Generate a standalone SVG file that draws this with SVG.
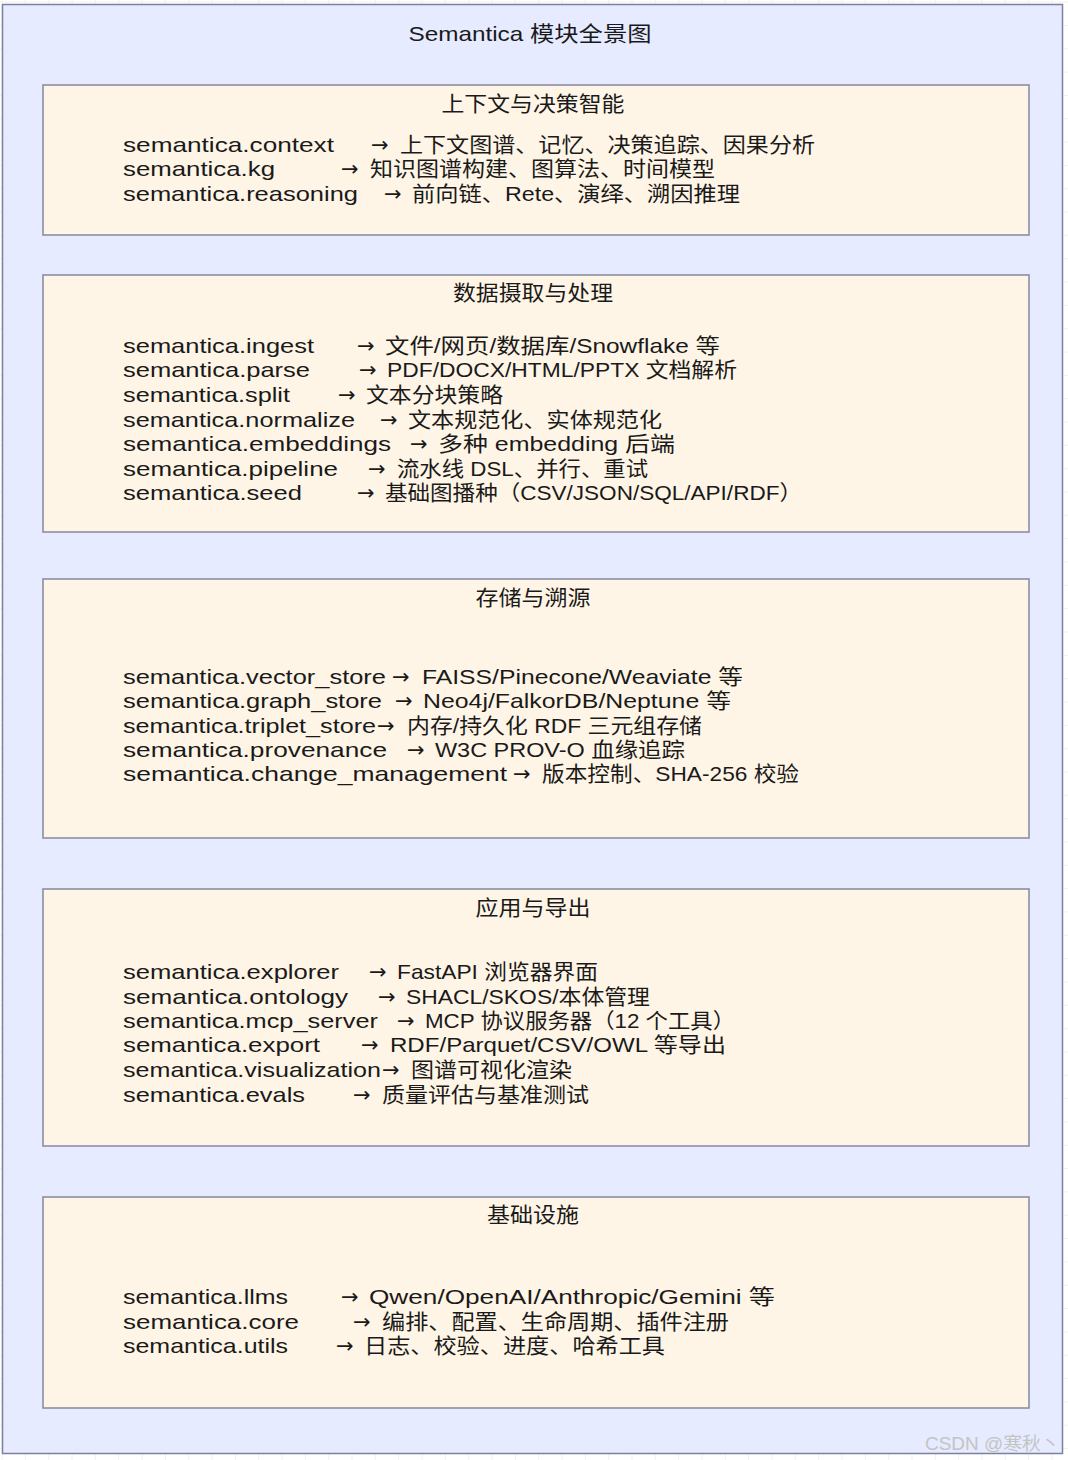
<svg xmlns="http://www.w3.org/2000/svg" width="1068" height="1460" viewBox="0 0 1068 1460">
<defs>
<pattern id="grid" patternUnits="userSpaceOnUse" x="1.6" y="1.6" width="23.33" height="23.33">
<path d="M0 0H23.33M0 0V23.33" fill="none" stroke="#e3e3e3" stroke-width="1"/>
</pattern>
<style>
.outer{fill:#e6ebff;stroke:#7d80a0;stroke-width:1.5}
.box{fill:#fff5e6;stroke:#85889f;stroke-width:1.5}
text{font-family:"Liberation Sans","Noto Sans CJK SC",sans-serif;fill:#1a1a1a}
.t{font-size:21px;text-anchor:middle}
.l{font-size:21px}
.a{font-family:"DejaVu Sans",sans-serif;font-size:21px}
.wm{font-size:18px;fill:#c4c4c4;font-family:"Liberation Sans","Noto Sans CJK SC",sans-serif}
</style>
</defs>
<rect width="1068" height="1460" fill="#ffffff"/>
<rect width="1068" height="1460" fill="url(#grid)"/>
<g id="outer">
<rect class="outer" x="2.5" y="4.5" width="1060" height="1449"/>
<text class="t" x="530" y="41" textLength="243" lengthAdjust="spacingAndGlyphs">Semantica 模块全景图</text>
</g>
<g id="node-context">
<rect class="box" x="43" y="85" width="986" height="150"/>
<text class="t" x="533" y="111" textLength="183" lengthAdjust="spacingAndGlyphs">上下文与决策智能</text>
<text class="l" y="151.5"><tspan x="123" textLength="211" lengthAdjust="spacingAndGlyphs">semantica.context</tspan><tspan class="a" x="371">→</tspan><tspan x="400" textLength="415" lengthAdjust="spacingAndGlyphs">上下文图谱、记忆、决策追踪、因果分析</tspan></text>
<text class="l" y="176"><tspan x="123" textLength="152" lengthAdjust="spacingAndGlyphs">semantica.kg</tspan><tspan class="a" x="341">→</tspan><tspan x="370" textLength="345" lengthAdjust="spacingAndGlyphs">知识图谱构建、图算法、时间模型</tspan></text>
<text class="l" y="200.5"><tspan x="123" textLength="235" lengthAdjust="spacingAndGlyphs">semantica.reasoning</tspan><tspan class="a" x="384">→</tspan><tspan x="412" textLength="328" lengthAdjust="spacingAndGlyphs">前向链、Rete、演绎、溯因推理</tspan></text>
</g>
<g id="node-ingest">
<rect class="box" x="43" y="275" width="986" height="257"/>
<text class="t" x="533" y="300" textLength="160" lengthAdjust="spacingAndGlyphs">数据摄取与处理</text>
<text class="l" y="352.5"><tspan x="123" textLength="191" lengthAdjust="spacingAndGlyphs">semantica.ingest</tspan><tspan class="a" x="357">→</tspan><tspan x="385" textLength="335" lengthAdjust="spacingAndGlyphs">文件/网页/数据库/Snowflake 等</tspan></text>
<text class="l" y="377"><tspan x="123" textLength="187" lengthAdjust="spacingAndGlyphs">semantica.parse</tspan><tspan class="a" x="359">→</tspan><tspan x="387" textLength="350" lengthAdjust="spacingAndGlyphs">PDF/DOCX/HTML/PPTX 文档解析</tspan></text>
<text class="l" y="402"><tspan x="123" textLength="167" lengthAdjust="spacingAndGlyphs">semantica.split</tspan><tspan class="a" x="338">→</tspan><tspan x="366" textLength="137" lengthAdjust="spacingAndGlyphs">文本分块策略</tspan></text>
<text class="l" y="426.5"><tspan x="123" textLength="232" lengthAdjust="spacingAndGlyphs">semantica.normalize</tspan><tspan class="a" x="380">→</tspan><tspan x="408" textLength="254" lengthAdjust="spacingAndGlyphs">文本规范化、实体规范化</tspan></text>
<text class="l" y="451"><tspan x="123" textLength="268" lengthAdjust="spacingAndGlyphs">semantica.embeddings</tspan><tspan class="a" x="410">→</tspan><tspan x="438" textLength="237" lengthAdjust="spacingAndGlyphs">多种 embedding 后端</tspan></text>
<text class="l" y="475.5"><tspan x="123" textLength="215" lengthAdjust="spacingAndGlyphs">semantica.pipeline</tspan><tspan class="a" x="368">→</tspan><tspan x="397" textLength="251" lengthAdjust="spacingAndGlyphs">流水线 DSL、并行、重试</tspan></text>
<text class="l" y="500"><tspan x="123" textLength="179" lengthAdjust="spacingAndGlyphs">semantica.seed</tspan><tspan class="a" x="357">→</tspan><tspan x="385" textLength="417" lengthAdjust="spacingAndGlyphs">基础图播种（CSV/JSON/SQL/API/RDF）</tspan></text>
</g>
<g id="node-storage">
<rect class="box" x="43" y="579" width="986" height="259"/>
<text class="t" x="533" y="605" textLength="115" lengthAdjust="spacingAndGlyphs">存储与溯源</text>
<text class="l" y="683.5"><tspan x="123" textLength="263" lengthAdjust="spacingAndGlyphs">semantica.vector_store</tspan><tspan class="a" x="392">→</tspan><tspan x="422" textLength="321" lengthAdjust="spacingAndGlyphs">FAISS/Pinecone/Weaviate 等</tspan></text>
<text class="l" y="708"><tspan x="123" textLength="259" lengthAdjust="spacingAndGlyphs">semantica.graph_store</tspan><tspan class="a" x="395">→</tspan><tspan x="423" textLength="308" lengthAdjust="spacingAndGlyphs">Neo4j/FalkorDB/Neptune 等</tspan></text>
<text class="l" y="732.5"><tspan x="123" textLength="253" lengthAdjust="spacingAndGlyphs">semantica.triplet_store</tspan><tspan class="a" x="377">→</tspan><tspan x="407" textLength="295" lengthAdjust="spacingAndGlyphs">内存/持久化 RDF 三元组存储</tspan></text>
<text class="l" y="757"><tspan x="123" textLength="264" lengthAdjust="spacingAndGlyphs">semantica.provenance</tspan><tspan class="a" x="407">→</tspan><tspan x="435" textLength="250" lengthAdjust="spacingAndGlyphs">W3C PROV-O 血缘追踪</tspan></text>
<text class="l" y="781"><tspan x="123" textLength="384" lengthAdjust="spacingAndGlyphs">semantica.change_management</tspan><tspan class="a" x="513">→</tspan><tspan x="542" textLength="257" lengthAdjust="spacingAndGlyphs">版本控制、SHA-256 校验</tspan></text>
</g>
<g id="node-apps">
<rect class="box" x="43" y="889" width="986" height="257"/>
<text class="t" x="533" y="915" textLength="115" lengthAdjust="spacingAndGlyphs">应用与导出</text>
<text class="l" y="978.5"><tspan x="123" textLength="216" lengthAdjust="spacingAndGlyphs">semantica.explorer</tspan><tspan class="a" x="369">→</tspan><tspan x="397" textLength="201" lengthAdjust="spacingAndGlyphs">FastAPI 浏览器界面</tspan></text>
<text class="l" y="1003.5"><tspan x="123" textLength="225" lengthAdjust="spacingAndGlyphs">semantica.ontology</tspan><tspan class="a" x="378">→</tspan><tspan x="406" textLength="244" lengthAdjust="spacingAndGlyphs">SHACL/SKOS/本体管理</tspan></text>
<text class="l" y="1027.5"><tspan x="123" textLength="255" lengthAdjust="spacingAndGlyphs">semantica.mcp_server</tspan><tspan class="a" x="397">→</tspan><tspan x="425" textLength="310" lengthAdjust="spacingAndGlyphs">MCP 协议服务器（12 个工具）</tspan></text>
<text class="l" y="1051.5"><tspan x="123" textLength="197" lengthAdjust="spacingAndGlyphs">semantica.export</tspan><tspan class="a" x="361">→</tspan><tspan x="390" textLength="336" lengthAdjust="spacingAndGlyphs">RDF/Parquet/CSV/OWL 等导出</tspan></text>
<text class="l" y="1076.5"><tspan x="123" textLength="258" lengthAdjust="spacingAndGlyphs">semantica.visualization</tspan><tspan class="a" x="382">→</tspan><tspan x="411" textLength="161" lengthAdjust="spacingAndGlyphs">图谱可视化渲染</tspan></text>
<text class="l" y="1101.5"><tspan x="123" textLength="182" lengthAdjust="spacingAndGlyphs">semantica.evals</tspan><tspan class="a" x="353">→</tspan><tspan x="382" textLength="207" lengthAdjust="spacingAndGlyphs">质量评估与基准测试</tspan></text>
</g>
<g id="node-infra">
<rect class="box" x="43" y="1197" width="986" height="211"/>
<text class="t" x="533" y="1222" textLength="92" lengthAdjust="spacingAndGlyphs">基础设施</text>
<text class="l" y="1303.5"><tspan x="123" textLength="165" lengthAdjust="spacingAndGlyphs">semantica.llms</tspan><tspan class="a" x="341">→</tspan><tspan x="369" textLength="406" lengthAdjust="spacingAndGlyphs">Qwen/OpenAI/Anthropic/Gemini 等</tspan></text>
<text class="l" y="1328.5"><tspan x="123" textLength="176" lengthAdjust="spacingAndGlyphs">semantica.core</tspan><tspan class="a" x="353">→</tspan><tspan x="382" textLength="347" lengthAdjust="spacingAndGlyphs">编排、配置、生命周期、插件注册</tspan></text>
<text class="l" y="1352.5"><tspan x="123" textLength="165" lengthAdjust="spacingAndGlyphs">semantica.utils</tspan><tspan class="a" x="336">→</tspan><tspan x="364" textLength="301" lengthAdjust="spacingAndGlyphs">日志、校验、进度、哈希工具</tspan></text>
</g>
<g id="connectors"></g>
<text class="wm" x="925" y="1450" textLength="135" lengthAdjust="spacingAndGlyphs">CSDN @寒秋丶</text>
</svg>
